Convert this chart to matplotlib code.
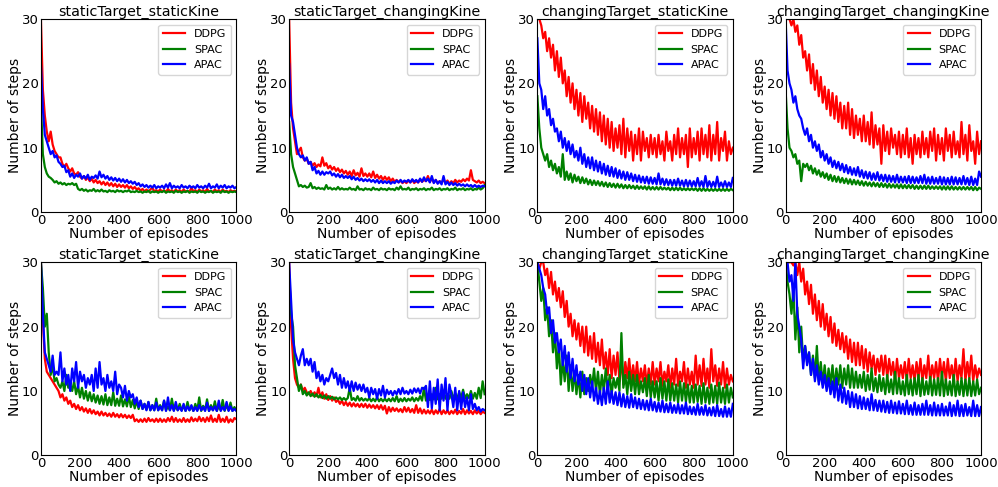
import numpy as np
import matplotlib
matplotlib.use('Agg')
import matplotlib.pyplot as plt

# ─── Curves, one value every 10 episodes (0..1000) ───
# top row
ss_ddpg_1 = [30, 19, 15, 12.5, 11, 12.5, 10.5, 9.5, 9, 8.5,
             8.5, 7.5, 7, 7.5, 6.8, 6.3, 6.8, 6, 5.8, 6.2,
             5.5, 5.2, 5.6, 5, 5.4, 4.8, 5.2, 4.6, 5, 4.5,
             4.8, 4.3, 4.7, 4.2, 4.6, 4.1, 4.5, 4, 4.4, 3.9,
             4.3, 3.9, 4.2, 3.8, 4.2, 3.7, 4, 3.6, 3.9, 3.5,
             3.7, 3.3, 3.6, 3.2, 3.5, 3.2, 3.5, 3.8, 3.2, 3.4,
             3.2, 3.5, 3.2, 3.4, 3.1, 3.6, 3.2, 3.4, 3.1, 3.5,
             3.2, 3.4, 3.1, 3.5, 3.2, 3.3, 3.1, 3.8, 3.2, 3.4,
             3.1, 3.5, 3.2, 3.4, 3.1, 3.6, 3.2, 3.3, 3.1, 3.5,
             3.2, 3.4, 3.1, 3.5, 3.2, 3.3, 3.1, 3.4, 3.2, 3.3, 3.2]
ss_spac_1 = [17, 9, 7, 6, 5.5, 5.3, 5, 4.6, 4.8, 4.4,
             4.6, 4.3, 4.5, 4.2, 4.4, 4.3, 4.5, 4.2, 4.4, 3.6,
             3.4, 3.6, 3.3, 3.5, 3.2, 3.4, 3.3, 3.6, 3.2, 3.4,
             3.2, 3.5, 3.2, 3.3, 3.1, 3.4, 3.2, 3.3, 3.1, 3.4,
             3.2, 3.3, 3.1, 3.3, 3.2, 3.4, 3.1, 3.2, 3.1, 3.3,
             3.1, 3.2, 3.0, 3.2, 3.1, 3.3, 3.0, 3.2, 3.1, 3.2,
             3.0, 3.2, 3.1, 3.3, 3.0, 3.2, 3.1, 3.2, 3.0, 3.3,
             3.1, 3.2, 3.0, 3.2, 3.1, 3.3, 3.0, 3.2, 3.1, 3.2,
             3.0, 3.3, 3.1, 3.2, 3.0, 3.2, 3.1, 3.3, 3.0, 3.2,
             3.1, 3.2, 3.0, 3.3, 3.1, 3.2, 3.0, 3.2, 3.1, 3.2, 3.1]
ss_apac_1 = [23, 16, 12, 11, 10, 9, 9.5, 8.5, 8.8, 7.8,
             7.5, 7, 7.2, 6.2, 6.5, 5.5, 6, 5.3, 5.8, 5.5,
             6, 5.2, 5.6, 5.2, 5.8, 5, 5.5, 5.3, 5.7, 5.2,
             6.3, 5.4, 5.8, 5.2, 5.6, 5, 5.4, 4.9, 5.3, 4.8,
             5.2, 4.7, 5.1, 4.6, 5, 4.5, 4.8, 4.4, 4.7, 4.2,
             4.5, 4, 4.3, 3.9, 4.2, 3.8, 4.1, 3.8, 4.2, 3.7,
             4, 3.8, 4.1, 3.7, 4.3, 3.8, 4.5, 3.7, 4.1, 3.8,
             4, 3.7, 4.2, 3.8, 4, 3.7, 4.1, 3.8, 4, 3.7,
             4.2, 3.8, 4, 3.7, 4.1, 3.8, 4.4, 3.7, 4, 3.8,
             4.3, 3.7, 4.1, 3.8, 4.2, 3.7, 4, 3.8, 4.1, 3.7, 3.9]

sc_ddpg_1 = [30, 17, 13, 11, 9, 9.5, 10, 8.5, 8, 8.3,
             7.5, 7.8, 7.2, 7.6, 7, 7.4, 7.1, 8.5, 7.2, 7.6,
             6.8, 7.2, 6.6, 7, 6.4, 6.8, 6.2, 6.6, 6, 6.4,
             5.8, 6.3, 5.6, 6.5, 5.7, 6.1, 5.5, 6.8, 5.6, 6,
             5.5, 6, 5.4, 6.3, 5.3, 5.8, 5.2, 5.6, 5, 5.5,
             5, 5.4, 4.8, 5.2, 4.7, 5, 4.6, 4.9, 4.5, 4.8,
             4.5, 4.9, 4.6, 5, 4.5, 4.8, 4.6, 5.1, 4.7, 5,
             4.8, 5.6, 4.7, 5.2, 4.6, 5, 4.5, 4.8, 4.6, 5,
             4.5, 4.9, 4.4, 4.8, 4.5, 5, 4.6, 4.9, 4.7, 5.1,
             4.8, 5.2, 4.9, 6.5, 5, 4.8, 4.6, 4.9, 4.5, 4.7, 4.5]
sc_spac_1 = [14, 9, 7, 6, 5, 4, 4.2, 3.9, 4.1, 3.8,
             3.9, 4.5, 3.7, 3.9, 3.6, 3.8, 3.6, 3.7, 3.5, 4.2,
             3.6, 3.8, 3.5, 3.7, 3.5, 3.9, 3.5, 3.7, 3.5, 3.6,
             3.5, 3.8, 3.5, 3.6, 3.4, 4, 3.5, 3.6, 3.4, 3.7,
             3.5, 3.6, 3.4, 3.8, 3.5, 3.6, 3.4, 3.7, 3.5, 3.6,
             3.4, 3.7, 3.5, 3.6, 3.4, 3.8, 3.5, 4, 3.5, 3.6,
             3.5, 3.8, 3.4, 3.6, 3.5, 3.7, 3.4, 3.6, 3.5, 3.7,
             3.4, 3.6, 3.5, 3.8, 3.4, 3.6, 3.5, 3.7, 3.4, 3.6,
             3.5, 3.7, 3.4, 3.6, 3.5, 3.8, 3.4, 3.6, 3.5, 3.7,
             3.4, 3.6, 3.5, 3.7, 3.4, 3.6, 3.5, 3.8, 3.5, 3.7, 4.2]
sc_apac_1 = [23, 15, 14, 12, 10, 9, 8.5, 8.8, 8, 8.5,
             7.5, 7.8, 6.5, 7, 6, 6.4, 5.8, 6.3, 5.8, 6.2,
             6, 6.3, 5.7, 6, 5.5, 5.9, 5.4, 5.8, 5.3, 5.6,
             5.3, 5.6, 5.1, 5.5, 5, 5.3, 4.9, 5.2, 4.8, 5.1,
             4.8, 5.1, 4.7, 5, 4.6, 5, 4.5, 4.9, 4.5, 4.8,
             4.5, 4.8, 4.4, 4.7, 4.5, 4.9, 4.6, 5, 4.6, 4.9,
             4.7, 5, 4.6, 5.1, 4.7, 5, 4.6, 5.2, 4.7, 5.4,
             4.8, 5.2, 4.6, 5.6, 4.5, 5, 4.4, 4.8, 4.3, 5.6,
             4.3, 4.7, 4.2, 4.6, 4.2, 4.5, 4.1, 4.4, 4.1, 4.3,
             4, 4.3, 4, 4.2, 3.9, 4.2, 3.9, 4.1, 3.9, 4.1, 4]

cs_ddpg_1 = [30, 30, 29, 27, 28, 25, 27, 24, 26, 22,
             25, 21, 24, 20, 22, 18, 21, 17, 20, 16,
             19, 15, 18.5, 14, 18, 14.5, 17, 13, 16.5, 12.5,
             16, 12, 15.5, 11, 15, 10.5, 14.5, 10, 14, 9.5,
             13, 10, 13.5, 9, 14.5, 8.5, 13, 9.5, 12.5, 8,
             12, 9, 13, 8, 12.5, 9.5, 11.5, 8.5, 12, 9,
             11.5, 8.5, 12, 9, 11, 8, 12.5, 9.5, 11, 8,
             12, 9, 13, 8.5, 11.5, 9, 12, 7, 13, 8.5,
             11.5, 9, 12.5, 8, 13, 9, 12, 8.5, 13.5, 8,
             12, 9, 14, 8, 11.5, 9.5, 12.5, 8, 11, 9, 10]
cs_spac_1 = [18, 13, 10, 9, 8, 9, 7, 8, 6.5, 7.5,
             6, 7, 5.5, 9, 5, 6.3, 5, 6, 4.6, 5.8,
             4.8, 5.5, 4.5, 5.4, 4.5, 5.2, 4.3, 5, 4.2, 4.9,
             4.2, 4.8, 4.1, 4.7, 4, 4.6, 3.9, 4.5, 3.9, 4.4,
             3.8, 4.4, 3.8, 4.3, 3.7, 4.2, 3.7, 4.2, 3.7, 4.1,
             3.6, 4.1, 3.6, 4, 3.6, 4, 3.5, 4, 3.5, 3.9,
             3.5, 3.9, 3.5, 3.9, 3.5, 3.8, 3.5, 3.8, 3.4, 3.8,
             3.4, 3.8, 3.4, 3.8, 3.4, 3.7, 3.4, 3.7, 3.4, 3.7,
             3.4, 3.7, 3.3, 3.7, 3.3, 3.7, 3.3, 3.6, 3.3, 3.6,
             3.3, 3.6, 3.3, 3.6, 3.3, 3.6, 3.3, 3.6, 3.3, 3.6, 3.4]
cs_apac_1 = [27, 20, 19, 16, 18, 15, 16, 13.5, 14.5, 12.5,
             13, 11, 12.5, 10, 11.5, 9.5, 11, 9, 10.5, 8.5,
             9.5, 8, 10, 7.5, 9, 7, 8.5, 6.8, 8.5, 6.5,
             8, 6.3, 7.8, 6, 7.5, 5.8, 7.2, 5.6, 7, 5.5,
             6.8, 5.3, 6.5, 5.2, 6.3, 5, 6.2, 5, 6, 4.8,
             5.8, 4.7, 5.7, 4.6, 5.5, 4.5, 5.5, 4.4, 5.4, 4.4,
             5.3, 4.3, 6, 4.3, 5.2, 4.2, 5.1, 4.2, 5, 4.1,
             5, 4.1, 5.2, 4.1, 4.9, 4, 5, 4, 4.9, 4,
             4.8, 4, 5.3, 4, 4.8, 3.9, 5.6, 3.9, 4.8, 3.9,
             4.7, 3.9, 5.5, 3.9, 4.6, 3.9, 4.8, 3.9, 4.6, 3.9, 5.3]

cc_ddpg_1 = [30, 30, 30, 29, 30, 28, 29, 26, 27.5, 24,
             25, 22, 24.5, 20, 23, 19, 22, 18, 21, 17,
             19.5, 16, 19, 15, 18.5, 14.5, 18, 14, 17, 13,
             16.5, 13, 17, 12, 16, 11.5, 15, 12, 14.5, 11,
             15, 11, 14, 10.5, 15.5, 10, 13.5, 10.5, 13, 7.5,
             13.5, 9.5, 12.5, 9, 13, 10, 12, 9, 12.5, 8.5,
             12, 9, 13, 8.5, 11.5, 7.5, 12, 9, 11.5, 8.5,
             12.5, 9, 11.5, 8.5, 12.5, 9.5, 13, 8, 12, 9,
             11.5, 8, 13, 9.5, 12, 8.5, 12.5, 9, 11, 8.5,
             14, 9, 12, 8, 13.5, 9.5, 11, 7.5, 12.5, 9, 11]
cc_spac_1 = [19, 13, 10, 9.5, 8.5, 9, 7.5, 8, 4.8, 7.5,
             7, 7.5, 6.5, 7.2, 6, 6.8, 5.8, 6.5, 5.5, 6.2,
             5.3, 6, 5, 5.8, 4.8, 5.6, 4.7, 5.5, 4.6, 5.3,
             4.5, 5.2, 4.4, 5.1, 4.3, 5, 4.3, 4.9, 4.2, 4.8,
             4.1, 4.7, 4.1, 4.6, 4, 4.6, 4, 4.5, 3.9, 4.5,
             3.9, 4.4, 3.8, 4.4, 3.8, 4.3, 3.8, 4.3, 3.7, 4.3,
             3.7, 4.2, 3.7, 4.2, 3.7, 4.2, 3.6, 4.1, 3.6, 4.1,
             3.6, 4.1, 3.6, 4.1, 3.6, 4, 3.6, 4, 3.6, 4,
             3.5, 4, 3.5, 4, 3.5, 4, 3.5, 3.9, 3.5, 3.9,
             3.5, 3.9, 3.5, 3.9, 3.5, 3.9, 3.4, 3.9, 3.4, 3.8, 3.6]
cc_apac_1 = [30, 22, 20, 19, 17, 18, 16, 15, 14.5, 13,
             12, 13, 11, 12, 10, 11, 9.5, 10.5, 8.5, 9.5,
             8, 9, 7.5, 8.5, 7, 8, 6.8, 7.8, 6.5, 7.5,
             6.2, 7.3, 6, 7, 5.8, 6.8, 5.7, 7, 5.5, 6.5,
             5.3, 6.3, 5.2, 6.2, 5, 6, 5, 6.2, 4.9, 5.8,
             4.8, 5.8, 4.7, 5.7, 4.7, 5.6, 4.6, 5.8, 4.6, 5.5,
             4.6, 5.5, 4.5, 5.6, 4.5, 5.5, 4.5, 5.4, 4.5, 5.6,
             4.5, 5.8, 4.4, 5.4, 4.4, 5.5, 4.4, 5.3, 4.4, 5.5,
             4.3, 5.4, 4.3, 5.3, 4.3, 5.5, 4.3, 5.4, 4.3, 5.3,
             4.3, 5.6, 4.3, 5.3, 4.2, 5.5, 4.2, 5.2, 4.2, 6.3, 5.5]

# bottom row
ss_ddpg_2 = [30, 21, 15, 13, 12.5, 12, 11.5, 11, 10.5, 10,
             9, 9.5, 8.5, 9, 8, 8.5, 7.5, 8, 7.2, 7.8,
             7, 7.5, 6.8, 7.3, 6.6, 7.2, 6.5, 7, 6.4, 6.8,
             6.2, 6.8, 6.2, 6.6, 6.1, 6.5, 6, 6.6, 6, 6.4,
             5.9, 6.4, 5.9, 6.3, 5.8, 6.2, 5.8, 6.3, 5.3, 5.6,
             5.2, 5.6, 5.2, 5.7, 5.2, 5.8, 5.3, 5.6, 5.2, 5.7,
             5.2, 5.7, 5.2, 5.6, 5.2, 5.8, 5.3, 6, 5.2, 5.8,
             5.2, 5.6, 5.2, 5.8, 5.2, 5.6, 5.2, 5.9, 5.3, 5.7,
             5.3, 6, 5.3, 5.8, 5.2, 5.9, 5.3, 6.2, 5.2, 5.7,
             5.2, 6.3, 5.2, 5.7, 5.2, 6, 5.1, 5.6, 5.2, 5.8, 5.6]
ss_spac_2 = [30, 26, 20, 22, 16, 12.5, 14, 11.5, 12, 11,
             10.5, 11.5, 10, 12.5, 10.5, 11, 10, 11.5, 9.5, 10.8,
             9, 10.5, 8.8, 10, 8.5, 9.8, 8.4, 9.5, 8.2, 9.3,
             8, 9.2, 7.9, 9.5, 7.8, 9, 7.8, 9.8, 7.7, 8.8,
             7.7, 9.3, 7.6, 8.7, 7.6, 9.2, 7.5, 8.6, 7.3, 8.5,
             7.2, 8.5, 7.2, 8, 7.1, 8.3, 7, 7.8, 7, 8.8,
             7, 7.8, 7, 8.5, 7, 7.6, 7, 8.8, 7, 7.6,
             7, 8, 7, 7.7, 6.9, 8.3, 7, 7.6, 6.9, 8,
             7, 9, 6.9, 7.7, 7, 8.7, 6.9, 7.8, 7, 8.4,
             6.9, 7.6, 7, 8.6, 6.9, 7.8, 7, 8.2, 6.9, 7.5, 7]
ss_apac_2 = [30, 22, 16, 15, 14, 13, 15.5, 12.5, 13, 12.5,
             16, 11.5, 13.5, 11, 12.5, 10, 13.5, 11.5, 14.5, 10.5,
             13, 11.5, 12.5, 10.5, 12, 11, 12.5, 10, 13.5, 10.5,
             14.5, 11, 12, 10, 12.5, 10.5, 11.5, 10, 13, 9.5,
             11, 10.5, 9, 10.8, 8.5, 10, 9, 9.5, 8, 9,
             7.5, 8.5, 7.2, 8, 7, 8.3, 7, 7.8, 7, 8.2,
             7, 7.6, 7, 8.5, 6.9, 9, 7, 7.8, 6.9, 8.3,
             7, 7.5, 6.9, 8, 6.9, 7.6, 7, 7.8, 6.9, 7.5,
             6.9, 7.8, 7, 7.5, 6.9, 8.2, 6.9, 7.5, 7, 7.6,
             6.9, 8.5, 6.9, 7.5, 7, 8.3, 6.9, 7.6, 6.9, 7.2, 6.9]

sc_ddpg_2 = [30, 20, 15, 12, 11, 10.5, 11, 10, 10.5, 9.8,
             9.5, 10, 9.3, 9.8, 9.2, 10.5, 9, 9.8, 8.8, 9.5,
             8.6, 9.2, 8.5, 9, 8.3, 8.6, 8, 8.5, 7.8, 8.3,
             7.7, 8.2, 7.6, 8.1, 7.6, 8, 7.5, 8, 7.5, 8,
             7.4, 7.9, 7.4, 7.8, 7.3, 7.8, 7.2, 7.8, 7.1, 7.7,
             6.5, 7.5, 6.8, 7.4, 6.9, 7.3, 6.8, 7.2, 6.7, 7.5,
             6.8, 7.4, 6.7, 7.2, 6.6, 7.8, 6.6, 7.3, 6.5, 7.1,
             6.5, 7, 6.5, 7.1, 6.4, 7, 6.5, 7.2, 6.4, 7,
             6.5, 7, 6.4, 6.9, 6.5, 7.1, 6.4, 6.9, 6.5, 7.2,
             6.4, 7, 6.5, 6.9, 6.4, 7, 6.5, 6.9, 6.4, 6.8, 6.6]
sc_spac_2 = [28, 22, 20, 14, 12, 10, 11, 9.5, 10, 9.3,
             9.8, 9.2, 9.6, 9.1, 9.5, 9, 9.4, 8.9, 9.3, 8.8,
             9.2, 8.8, 9.1, 8.7, 9, 8.7, 9, 8.6, 8.9, 8.6,
             8.9, 10.5, 8.6, 8.9, 8.5, 9.2, 8.5, 8.9, 8.5, 8.8,
             8.5, 8.9, 8.4, 8.8, 8.4, 9, 8.4, 8.8, 8.4, 8.8,
             8.4, 8.8, 8.4, 8.9, 8.4, 9.2, 8.3, 8.8, 8.4, 8.9,
             8.4, 8.8, 8.5, 9, 8.4, 8.9, 8.5, 9.2, 8.5, 10.5,
             8.5, 9.3, 8.6, 9.5, 8.7, 10.5, 8.7, 9.5, 8.8, 10,
             8.8, 9.5, 8.8, 10, 8.8, 9.6, 8.8, 9.8, 8.9, 10.2,
             8.8, 9.5, 8.9, 10, 8.8, 9.7, 8.8, 10.5, 8.9, 11.5, 9.5]
sc_apac_2 = [30, 24, 18, 16, 15, 14, 15.5, 16.5, 14, 15,
             14, 15, 13, 14.5, 12, 13, 11.5, 12.5, 11, 12,
             11.5, 12.5, 13.5, 12, 12.8, 11, 12.5, 10.5, 12, 10.5,
             11.5, 10, 11.5, 10, 11.3, 10.2, 11, 10, 11, 9.8,
             10.5, 9, 10.5, 9.5, 10.3, 8.8, 10.3, 9.3, 10.8, 9,
             10.2, 9.5, 10, 9.3, 10, 9.5, 10.3, 9.5, 10.5, 9.6,
             10, 9.5, 10.2, 9.6, 10.4, 9.8, 10.4, 9.6, 10.5, 10.3,
             10.8, 7.5, 11.5, 7.3, 10.5, 8, 11.8, 7, 11, 8.5,
             12, 7, 11, 9.5, 7.5, 10.5, 7, 10, 7.2, 9.8,
             7.5, 9, 7, 9.5, 7.2, 8, 7, 7.5, 6.8, 7.2, 7]

cs_ddpg_2 = [30, 29, 30, 30, 28, 29, 26, 28.5, 25, 27,
             24, 26, 23, 25.5, 21.5, 24, 20, 22, 18.5, 21,
             18, 20.5, 17, 20, 16, 20, 15.5, 18.5, 15, 19,
             14.5, 17.5, 14, 18, 13.5, 16, 12.5, 16.5, 12, 15.5,
             12.5, 16, 11.5, 15, 11, 14.5, 12, 15, 11.5, 14,
             11.5, 14.5, 11, 13.5, 11.5, 14, 10.8, 13.5, 11, 14.5,
             11, 13.5, 11.5, 14.5, 10.8, 13, 11.5, 14, 10.5, 13.5,
             11, 15, 10.8, 13, 11.5, 14.5, 10.5, 13.5, 11, 13,
             10.5, 15.5, 11, 14, 10.8, 15, 11, 13.5, 10.5, 16.5,
             11.5, 14, 10.8, 13.5, 11, 14.5, 10.5, 13.5, 11, 12.5, 11.5]
cs_spac_2 = [30, 27, 24, 26, 21, 23, 18.5, 21, 16, 19,
             13.5, 17, 11, 15, 11.5, 15.5, 10, 14, 10, 13,
             9.5, 12.5, 9, 13, 9.5, 12, 10, 12.5, 10.5, 13.5,
             10, 13, 9.5, 12.5, 10, 13.5, 10, 12.5, 9.5, 12,
             10.5, 12, 10, 19, 10.5, 12.5, 9.5, 13, 10, 12.5,
             9.5, 12.5, 9.5, 11.5, 9.8, 12, 9.2, 12.5, 9, 11.5,
             9, 11.5, 8.5, 12, 8.8, 11.5, 8.5, 11.8, 8.5, 11.2,
             8.5, 11, 8.2, 11.5, 8.5, 11.2, 8.3, 11, 8.2, 10.8,
             8.2, 11, 8.3, 10.8, 8, 11.2, 8.2, 10.5, 8, 11,
             8.2, 10.8, 8, 11.3, 8.2, 10.5, 8, 11, 8.2, 10.5, 9]
cs_apac_2 = [30, 29, 28, 26, 25, 22, 23, 19, 21, 17.5,
             19, 16, 18, 14, 17, 13, 16, 12, 15, 11.5,
             14, 11, 13, 10, 12.5, 9.5, 12, 9, 11.5, 8.5,
             10.5, 8, 10, 7.8, 10.5, 8, 11.5, 8.2, 10, 8,
             9.8, 7.8, 9.8, 7.6, 9.5, 7.5, 9.2, 7.4, 9.5, 7.5,
             9, 7.3, 8.8, 7.2, 8.6, 7.1, 8.5, 7, 8.8, 7,
             8.3, 6.8, 8.2, 6.8, 8.5, 6.7, 8, 6.7, 8.2, 6.6,
             7.8, 6.6, 8, 6.5, 7.8, 6.5, 8.2, 6.4, 7.6, 6.4,
             7.5, 6.3, 8, 6.3, 7.5, 6.3, 7.8, 6.2, 7.4, 6.2,
             7.5, 6.1, 7.8, 6.1, 7.2, 6, 7.6, 6, 7.3, 6, 8]

cc_ddpg_2 = [30, 30, 30, 30, 29.5, 30, 28, 30, 27, 29,
             25, 27, 23.5, 26.5, 22, 25, 21, 24, 20, 23.5,
             19.5, 22, 18.5, 21.5, 17.5, 20.5, 17, 19.5, 16.5, 19,
             16, 18.5, 15, 18, 14.5, 17.5, 14, 17.5, 14, 17,
             13.5, 16.5, 13, 16, 13.5, 15.5, 12.5, 15, 13, 15.5,
             12.5, 15.5, 12, 15, 12.5, 14.5, 11.5, 15, 12, 14,
             12, 14.5, 11.5, 15, 12, 14, 11.5, 14.5, 12, 15,
             11.5, 14, 12, 15.5, 11.5, 14, 12, 14.5, 11.5, 15,
             12, 14.5, 11.5, 15, 12, 14, 11.5, 15, 11.5, 14,
             12, 16.5, 11.5, 14.5, 12, 15.5, 11.5, 14, 12, 13.5, 12.5]
cc_spac_2 = [30, 27, 25, 22, 26, 18, 23, 16, 20, 14.5,
             17, 14.5, 16, 12.5, 15.5, 12, 17, 11.5, 14.5, 11,
             14, 10.5, 13.5, 11, 14, 10.5, 13.5, 11, 14, 10.5,
             13.5, 11, 14, 10.5, 13.5, 10.5, 13, 10.5, 12.5, 10.5,
             13, 10, 12.5, 10.2, 13.5, 10, 12, 9.8, 12.5, 10,
             12, 9.5, 12.5, 9.8, 11.8, 9.5, 13, 9.6, 12, 9.5,
             11.5, 9.3, 12.5, 9.5, 11.8, 9.3, 12, 9.5, 12.5, 9.2,
             12, 9.4, 11.5, 9.5, 12.2, 9.3, 11.8, 9.4, 12, 9.3,
             13, 9.2, 11.8, 9.4, 11.5, 9.3, 12.5, 9.2, 11.5, 9.4,
             12, 9.2, 11.8, 9.3, 12, 9.2, 11.5, 9.3, 11.8, 9.5, 10.5]
cc_apac_2 = [30, 30, 27, 28, 24, 30, 22, 20, 18, 13.5,
             17, 14, 16, 12.5, 15, 11.5, 14, 11, 13, 10.5,
             12.5, 10, 12, 9.5, 11.5, 9, 12, 8.5, 11, 8.2,
             10.5, 8, 10, 7.5, 9.8, 7.5, 9.5, 7.3, 9.2, 7.2,
             9, 7.2, 8.8, 7, 9.5, 7, 8.6, 6.9, 8.5, 6.8,
             8.5, 6.7, 8.3, 6.6, 8.5, 6.6, 8.2, 6.5, 8.4, 6.5,
             8, 6.4, 8.5, 6.4, 7.8, 6.3, 8.2, 6.3, 7.8, 6.3,
             8, 6.3, 8.5, 6.3, 7.8, 6.2, 8.2, 6.2, 7.8, 6.2,
             8, 6.2, 7.6, 6.2, 8.2, 6.1, 7.8, 6.2, 8.5, 6.1,
             7.8, 6.1, 8, 6.2, 7.5, 6.1, 8.5, 6.1, 7.8, 6.1, 7.5]

TITLES = ["staticTarget_staticKine", "staticTarget_changingKine",
          "changingTarget_staticKine", "changingTarget_changingKine"]
METHODS = ["DDPG", "SPAC", "APAC"]
COLORS = ["red", "green", "blue"]

PANELS = [
    [ss_ddpg_1, ss_spac_1, ss_apac_1], [sc_ddpg_1, sc_spac_1, sc_apac_1],
    [cs_ddpg_1, cs_spac_1, cs_apac_1], [cc_ddpg_1, cc_spac_1, cc_apac_1],
    [ss_ddpg_2, ss_spac_2, ss_apac_2], [sc_ddpg_2, sc_spac_2, sc_apac_2],
    [cs_ddpg_2, cs_spac_2, cs_apac_2], [cc_ddpg_2, cc_spac_2, cc_apac_2],
]

fig, axes = plt.subplots(2, 4, figsize=(9.98, 4.87), dpi=100)
fig.subplots_adjust(left=0.041, right=0.983, bottom=0.065, top=0.961,
                    wspace=0.27, hspace=0.26)

for i, ax in enumerate(axes.flat):
    for series, name, col in zip(PANELS[i], METHODS, COLORS):
        x = np.linspace(0, 1000, len(series))
        ax.plot(x, series, color=col, linewidth=1.6, label=name)
    ax.set_xlim(0, 1000)
    ax.set_ylim(0, 30)
    ax.set_xticks([0, 200, 400, 600, 800, 1000])
    ax.set_yticks([0, 10, 20, 30])
    ax.tick_params(length=0, labelsize=9.5, pad=1.5)
    ax.set_title(TITLES[i % 4], fontsize=10.3, pad=1)
    ax.set_xlabel("Number of episodes", fontsize=10, labelpad=0)
    ax.set_ylabel("Number of steps", fontsize=10, labelpad=0)
    ax.legend(loc='upper right', fontsize=8, borderaxespad=0.5)

plt.savefig("out.png", dpi=100)
